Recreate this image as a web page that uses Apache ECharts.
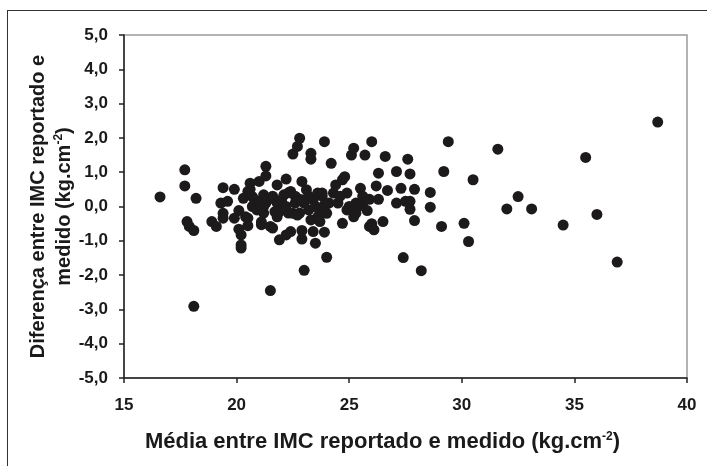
<!DOCTYPE html>
<html>
<head>
<meta charset="utf-8">
<script src="https://cdn.jsdelivr.net/npm/echarts@6/dist/echarts.min.js"></script>
<style>
  html, body { margin: 0; padding: 0; background: #fff; }
  #chart { position: absolute; left: 0; top: 0; width: 707px; height: 466px; }
  .frame {
    position: absolute; left: 7px; top: 10px; right: -2px; bottom: -2px;
    border-left: 1.5px solid #333; border-top: 1.5px solid #333;
  }
</style>
</head>
<body>
<div class="frame"></div>
<div id="chart"></div>
<script>
// média do IMC (reportado + medido) / 2
const bmiMean = [
  16.6, 17.7, 17.7, 18.2, 17.8, 17.9, 18.1, 18.1, 18.9, 19.1,
  19.4, 19.3, 19.4, 19.4, 19.6, 19.9, 19.9, 20.1, 20.1, 20.2,
  20.2, 20.2, 20.3, 20.5, 20.5, 20.5, 20.6, 20.7, 20.7, 21.0,
  21.1, 21.2, 21.2, 21.3, 21.3, 21.3, 21.5, 21.6, 21.5, 21.8,
  21.8, 21.9, 21.9, 22.1, 22.2, 22.2, 22.3, 22.4, 22.4, 22.5,
  22.6, 22.7, 22.7, 22.8, 22.8, 22.9, 22.9, 22.9, 23.0, 23.1,
  23.2, 23.3, 23.3, 23.3, 23.4, 23.4, 23.5, 23.6, 23.7, 23.7,
  23.8, 23.9, 23.9, 23.9, 24.0, 24.1, 24.2, 24.3, 24.4, 24.5,
  24.7, 24.7, 24.8, 24.9, 24.9, 25.1, 25.2, 25.3, 25.3, 25.5,
  25.6, 25.7, 25.8, 25.9, 25.9, 26.0, 26.1, 26.2, 26.3, 26.3,
  26.5, 26.6, 26.7, 27.1, 27.1, 27.3, 27.4, 27.5, 27.6, 27.7,
  27.7, 27.7, 27.9, 27.9, 28.2, 28.6, 28.6, 29.1, 29.2, 29.4,
  30.1, 30.3, 30.5, 31.6, 32.0, 32.5, 33.1, 34.5, 35.5, 36.0,
  36.9, 38.7,
  20.8, 21.0, 21.4, 21.6, 22.0, 22.2, 22.5, 22.6, 23.0, 23.2,
  23.5, 24.0, 21.8, 20.9, 23.8, 22.9, 21.2, 20.6, 22.3, 23.6,
  25.2, 25.4, 25.6, 26.0, 24.6, 21.7, 22.7, 23.9, 25.0, 20.4,
  21.1
];
// diferença entre IMC reportado e medido
const bmiDiff = [
  0.28, 1.07, 0.60, 0.24, -0.44, -0.58, -0.70, -2.91, -0.44, -0.58,
  0.55, 0.10, -0.20, -0.34, 0.15, 0.50, -0.34, -0.12, -0.66, -0.83,
  -1.12, -1.21, 0.24, 0.44, -0.34, -0.56, 0.68, 0.29, 0.00, 0.73,
  -0.53, 0.34, -0.19, 1.17, 0.89, 0.10, -0.58, -0.63, -2.45, 0.10,
  0.63, -0.15, -0.97, 0.34, -0.83, 0.80, -0.19, -0.73, 0.44, 1.53,
  0.10, 1.75, 0.24, -0.19, 1.99, 0.73, -0.70, -0.95, -1.86, 0.49,
  -0.10, 1.55, 1.38, -0.39, 0.19, -0.73, -1.07, 0.39, -0.19, -0.44,
  0.39, -0.10, 1.89, -0.75, -1.48, 0.10, 1.26, 0.39, 0.63, 0.10,
  -0.49, 0.78, 0.87, -0.10, 0.39, 1.50, 1.70, 0.10, -0.19, 0.53,
  0.10, 1.50, -0.12, 0.21, -0.58, 1.89, -0.68, 0.60, 0.97, 0.21,
  -0.44, 1.46, 0.47, 1.02, 0.10, 0.53, -1.49, 0.15, 1.38, 0.95,
  0.15, -0.08, 0.50, -0.41, -1.87, 0.41, -0.02, -0.58, 1.02, 1.89,
  -0.49, -1.02, 0.78, 1.67, -0.07, 0.29, -0.07, -0.54, 1.43, -0.23,
  -1.62, 2.46,
  0.20, 0.10, 0.20, 0.30, 0.20, 0.00, -0.20, 0.30, 0.10, 0.30,
  0.00, -0.20, -0.30, -0.10, 0.30, 0.20, 0.00, 0.50, 0.40, -0.30,
  -0.30, 0.00, 0.30, -0.50, 0.30, -0.15, -0.25, 0.05, 0.00, -0.30,
  -0.45
];
const xTicks = [15, 20, 25, 30, 35, 40];
const yTicks = [-5, -4, -3, -2, -1, 0, 1, 2, 3, 4, 5];

const points = bmiMean.map((x, i) => [x, bmiDiff[i]]);

const chart = echarts.init(document.getElementById('chart'));
const tickFont = {
  fontFamily: 'Liberation Sans, Arial, sans-serif',
  fontWeight: 'bold',
  fontSize: 17,
  color: '#1a1a1a'
};

chart.setOption({
  animation: false,
  grid: {
    left: 124,
    right: 20,
    top: 35,
    bottom: 88,
    show: true,
    borderColor: '#9a9a9a',
    borderWidth: 1.5
  },
  xAxis: {
    type: 'value',
    min: xTicks[0],
    max: xTicks[xTicks.length - 1],
    interval: 5,
    splitLine: { show: false },
    axisLine: { show: true, onZero: false, lineStyle: { color: '#222', width: 1.5 } },
    axisTick: { show: true, length: 5, lineStyle: { color: '#222', width: 1.5 } },
    axisLabel: Object.assign({ margin: 19 }, tickFont),
    name: '{t|Média entre IMC reportado e medido (kg.cm}{s|-2}{t|)}',
    nameLocation: 'middle',
    nameGap: 51,
    nameMoveOverlap: false,
    nameTextStyle: {
      padding: [0, 46, 0, 0],
      rich: {
        t: { fontFamily: 'Liberation Sans, Arial, sans-serif', fontWeight: 'bold', fontSize: 22, color: '#1a1a1a', lineHeight: 26 },
        s: { fontFamily: 'Liberation Sans, Arial, sans-serif', fontWeight: 'bold', fontSize: 12, color: '#1a1a1a', lineHeight: 26, padding: [0, 0, 11, 0] }
      }
    }
  },
  yAxis: {
    type: 'value',
    min: yTicks[0],
    max: yTicks[yTicks.length - 1],
    interval: 1,
    splitLine: { show: false },
    axisLine: { show: true, onZero: false, lineStyle: { color: '#222', width: 1.5 } },
    axisTick: { show: true, length: 5, lineStyle: { color: '#222', width: 1.5 } },
    axisLabel: Object.assign({
      margin: 16,
      formatter: v => v.toFixed(1).replace('.', ',')
    }, tickFont),
    name: '{t|Diferença entre IMC reportado e}\n{t|medido (kg.cm}{s|-2}{t|)}',
    nameLocation: 'middle',
    nameGap: 47,
    nameMoveOverlap: false,
    nameTextStyle: {
      rich: {
        t: { fontFamily: 'Liberation Sans, Arial, sans-serif', fontWeight: 'bold', fontSize: 20, color: '#1a1a1a', lineHeight: 26 },
        s: { fontFamily: 'Liberation Sans, Arial, sans-serif', fontWeight: 'bold', fontSize: 12, color: '#1a1a1a', lineHeight: 26, padding: [0, 0, 11, 0] }
      }
    }
  },
  series: [
    {
      type: 'scatter',
      data: points,
      symbol: 'circle',
      symbolSize: 11,
      itemStyle: { color: '#1c1a1b', opacity: 1 }
    }
  ]
});
</script>
</body>
</html>
